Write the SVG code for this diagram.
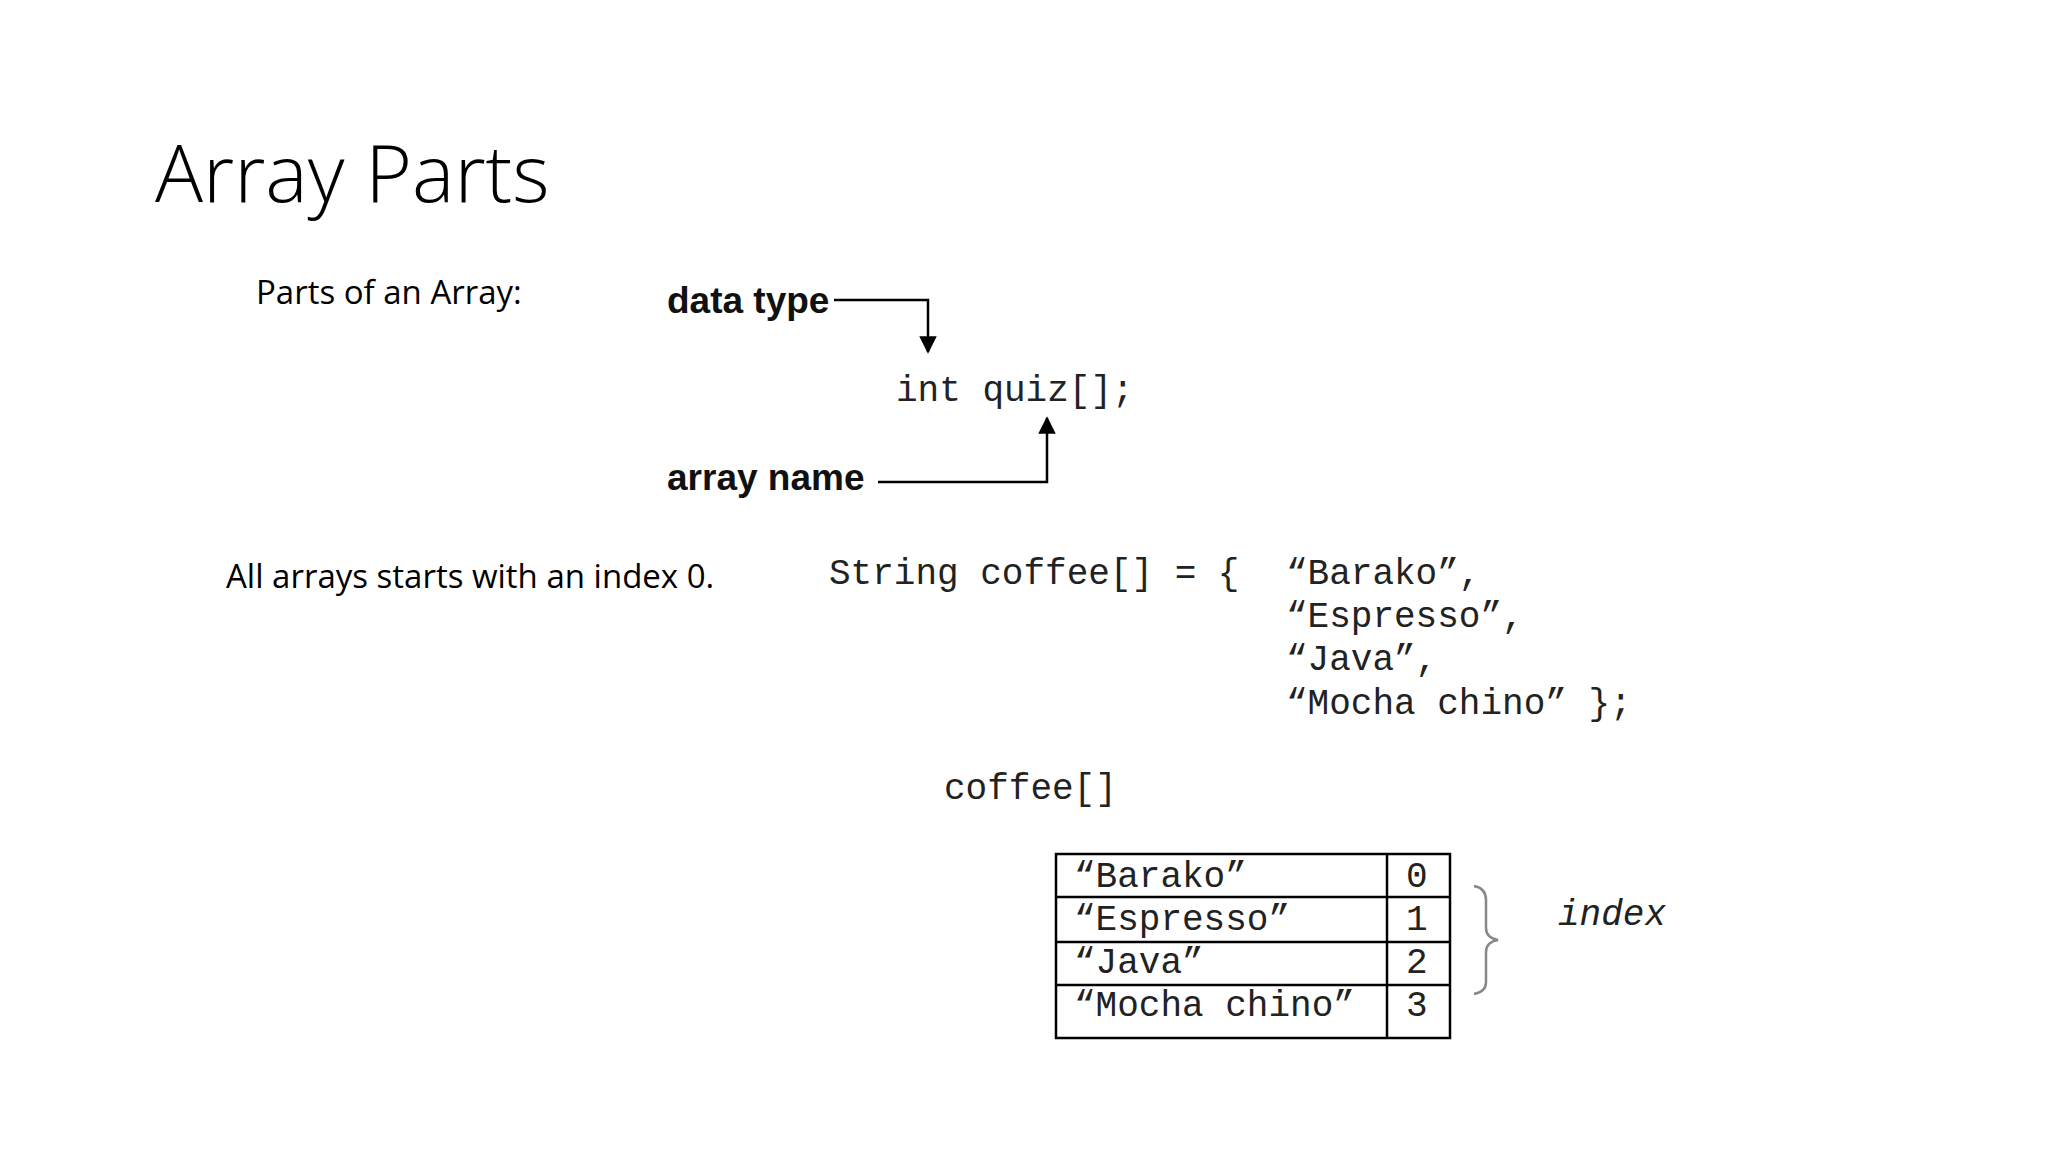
<svg xmlns="http://www.w3.org/2000/svg" width="2048" height="1152" viewBox="0 0 2048 1152">
<style>
.mono{font-family:"Liberation Mono","Courier New",monospace;font-size:36px;fill:#222}
.sans{font-family:"Open Sans","Noto Sans",sans-serif;font-size:33px;fill:#000}
.lab{font-family:"Liberation Sans",Arial,sans-serif;font-weight:bold;font-size:37px;fill:#111}
.ln{stroke:#000;stroke-width:2.5;fill:none}
.cell{stroke:#000;stroke-width:2.5;fill:none}
</style>
<defs><marker id="ah" viewBox="0 0 10 10" refX="9" refY="5" markerWidth="7" markerHeight="7" orient="auto"><path d="M0,0L10,5L0,10z" fill="#000"/></marker></defs>
<rect width="2048" height="1152" fill="#fff"/>
<text x="155" y="202" font-family="'Open Sans',sans-serif" font-weight="300" font-size="80" fill="#000">Array Parts</text>
<g id="n-parts"><text class="sans" x="256" y="304">Parts of an Array:</text></g>
<g id="n-datatype"><text class="lab" x="667" y="313">data type</text></g>
<g id="n-decl"><text class="mono" x="896" y="401">int quiz[];</text></g>
<g id="n-arrayname"><text class="lab" x="667" y="490">array name</text></g>
<g id="n-all"><text class="sans" x="226" y="588">All arrays starts with an index 0.</text></g>
<g id="n-string">
<text class="mono" x="829" y="584" xml:space="preserve">String coffee[] = {</text>
<text class="mono" x="1286" y="584">“Barako”,</text>
<text class="mono" x="1286" y="627">“Espresso”,</text>
<text class="mono" x="1286" y="670">“Java”,</text>
<text class="mono" x="1286" y="714" xml:space="preserve">“Mocha chino” };</text>
</g>
<g id="n-coffee"><text class="mono" x="944" y="799">coffee[]</text></g>
<g id="n-table">
<rect class="cell" x="1056" y="854" width="394" height="184"/>
<line class="cell" x1="1387" y1="854" x2="1387" y2="1038"/>
<line class="cell" x1="1056" y1="897" x2="1450" y2="897"/>
<line class="cell" x1="1056" y1="942" x2="1450" y2="942"/>
<line class="cell" x1="1056" y1="985" x2="1450" y2="985"/>
<text class="mono" x="1074" y="887">“Barako”</text>
<text class="mono" x="1074" y="930">“Espresso”</text>
<text class="mono" x="1074" y="973">“Java”</text>
<text class="mono" x="1074" y="1016">“Mocha chino”</text>
<text class="mono" x="1406" y="887">0</text>
<text class="mono" x="1406" y="930">1</text>
<text class="mono" x="1406" y="973">2</text>
<text class="mono" x="1406" y="1016">3</text>
</g>
<g id="n-index">
<path d="M1474,886 Q1486,888 1486,900 L1486,928 Q1486,938 1498,940 Q1486,942 1486,952 L1486,982 Q1486,992 1474,994" stroke="#888" stroke-width="2.5" fill="none"/>
<text class="mono" x="1558" y="925" font-style="italic">index</text>
</g>
<g id="connectors">
<path class="ln" d="M834,300 H928 V352" marker-end="url(#ah)"/>
<path class="ln" d="M878,482 H1047 V418" marker-end="url(#ah)"/>
</g>
</svg>
